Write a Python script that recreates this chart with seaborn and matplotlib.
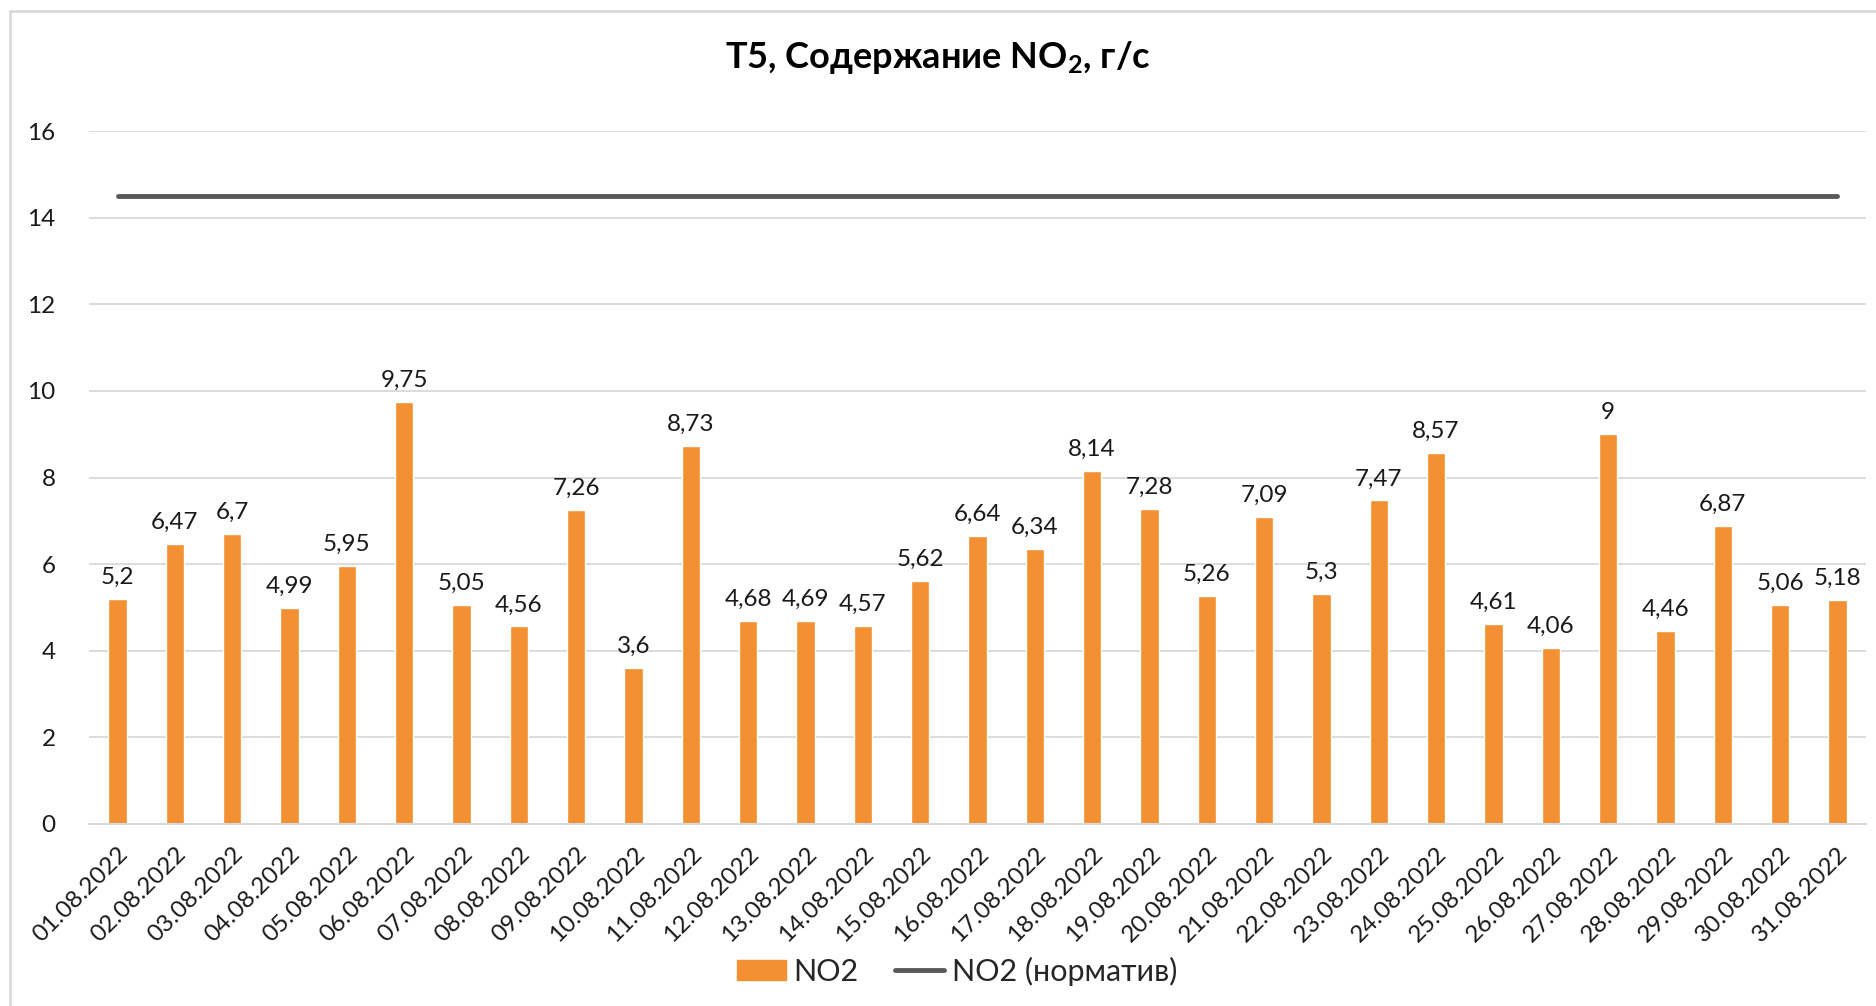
import matplotlib
matplotlib.use("Agg")
import matplotlib.pyplot as plt
import seaborn as sns
import pandas as pd
import numpy as np
from matplotlib.lines import Line2D
from matplotlib.patches import Patch
from matplotlib.ticker import FixedLocator

dates = ["01.08.2022", "02.08.2022", "03.08.2022", "04.08.2022", "05.08.2022", "06.08.2022",
         "07.08.2022", "08.08.2022", "09.08.2022", "10.08.2022", "11.08.2022", "12.08.2022",
         "13.08.2022", "14.08.2022", "15.08.2022", "16.08.2022", "17.08.2022", "18.08.2022",
         "19.08.2022", "20.08.2022", "21.08.2022", "22.08.2022", "23.08.2022", "24.08.2022",
         "25.08.2022", "26.08.2022", "27.08.2022", "28.08.2022", "29.08.2022", "30.08.2022",
         "31.08.2022"]
no2 = [5.2, 6.47, 6.7, 4.99, 5.95, 9.75, 5.05, 4.56, 7.26, 3.6, 8.73, 4.68, 4.69, 4.57, 5.62,
       6.64, 6.34, 8.14, 7.28, 5.26, 7.09, 5.3, 7.47, 8.57, 4.61, 4.06, 9.0, 4.46, 6.87, 5.06, 5.18]
norm = [14.5] * len(dates)
yticks = [0, 2, 4, 6, 8, 10, 12, 14, 16]

sns.set_theme(style="white")
plt.rcParams['font.family'] = ['Lato', 'Noto Sans', 'DejaVu Sans']
plt.rcParams['mathtext.fontset'] = 'custom'
plt.rcParams['mathtext.rm'] = 'Lato:bold'
plt.rcParams['mathtext.it'] = 'Lato:bold'
plt.rcParams['mathtext.bf'] = 'Lato:bold'
plt.rcParams['mathtext.default'] = 'rm'

BAR = "#F39032"
LINE = "#595959"
GRID = "#D9D9D9"

df = pd.DataFrame({"date": dates, "no2": no2, "norm": norm})

fig = plt.figure(figsize=(18.76, 10.06), dpi=100)
ax = fig.add_axes([89 / 1876, 1 - 824 / 1006, (1866 - 89) / 1876, (824 - 131) / 1006])

sns.barplot(data=df, x="date", y="no2", color=BAR, width=0.32, ax=ax, saturation=1)
sns.lineplot(x=np.arange(len(dates)), y=df["norm"], color=LINE, lw=3.5, ax=ax)
ax.lines[-1].set_solid_capstyle("round")

for i, v in enumerate(no2):
    txt = f"{v:g}".replace(".", ",")
    ax.annotate(txt, (i, v), xytext=(0, 8), textcoords="offset points",
                ha="center", va="bottom", fontsize=17.5, color="#1a1a1a")

ax.set_xlim(-0.5, len(dates) - 0.5)
ax.set_ylim(0, 16)
ax.set_yticks(yticks)
ax.set_yticklabels([str(t) for t in yticks], fontsize=17.5, color="#1a1a1a")
ax.yaxis.grid(True, color=GRID, lw=1.3)
ax.set_axisbelow(True)
ax.tick_params(axis="y", length=0, pad=24)

ax.set_xticks(range(len(dates)))
ax.set_xticklabels(dates, rotation=45, ha="right", va="top", rotation_mode="anchor",
                   fontsize=17.5, color="#1a1a1a")
ax.tick_params(axis="x", which="major", length=0, pad=14)
ax.xaxis.set_minor_locator(FixedLocator(np.arange(-0.5, len(dates), 1.0)))
ax.tick_params(axis="x", which="minor", length=7, width=1.3, color=GRID, direction="out")
ax.set_xlabel("")
ax.set_ylabel("")

for s in ["top", "right", "left"]:
    ax.spines[s].set_visible(False)
ax.spines["bottom"].set_color(GRID)
ax.spines["bottom"].set_linewidth(1.5)

fig.text(0.5, 1 - 57 / 1006, "T5, Содержание NO$_2$, г/с", ha="center", va="center",
         fontsize=26, fontweight="bold", color="#000000")

handles = [Patch(facecolor=BAR, edgecolor=BAR),
           Line2D([0], [0], color=LINE, lw=3.5)]
fig.legend(handles, ["NO2", "NO2 (норматив)"], loc="center",
           bbox_to_anchor=(0.5 + 19 / 1876, 1 - 971 / 1006),
           ncol=2, frameon=False, fontsize=22, handlelength=1.6, handleheight=0.65,
           handletextpad=0.25, columnspacing=1.2)

# chart border
fig.add_artist(Line2D([9.5 / 1876, 9.5 / 1876], [0, 1 - 10.5 / 1006], color=GRID, lw=2,
                      transform=fig.transFigure))
fig.add_artist(Line2D([9.5 / 1876, 1], [1 - 10.5 / 1006, 1 - 10.5 / 1006], color=GRID, lw=2,
                      transform=fig.transFigure))

fig.savefig("out.png", dpi=100)
